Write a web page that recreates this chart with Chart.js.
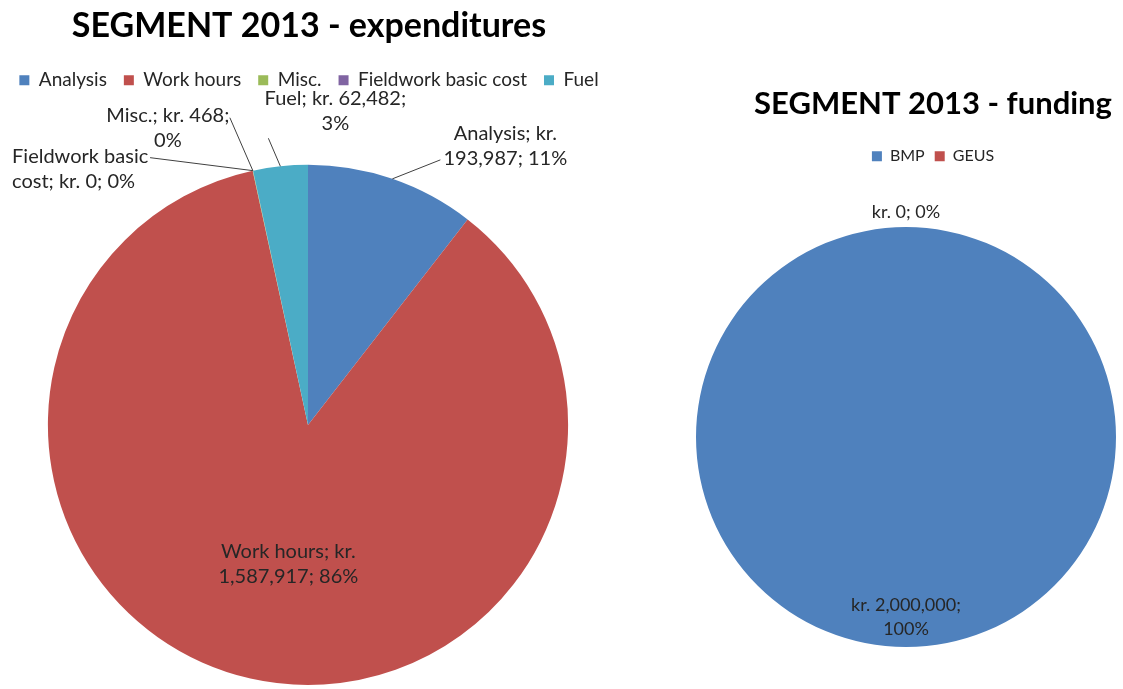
<!DOCTYPE html>
<html>
<head>
<meta charset="utf-8">
<script src="https://cdn.jsdelivr.net/npm/chart.js@4.4.1/dist/chart.umd.min.js"></script>
<style>
  html, body { margin: 0; padding: 0; background: #fff; overflow: hidden; width: 1123px; height: 689px; }
  #exp { position: absolute; left: 0; top: 0; }
  #fund { position: absolute; left: 676px; top: 0; }
</style>
</head>
<body>
<canvas id="exp" width="616" height="689"></canvas>
<canvas id="fund" width="460" height="689"></canvas>
<script>
// expenditures
const expCategories = ["Analysis", "Work hours", "Misc.", "Fieldwork basic cost", "Fuel"];
const expValues = [193987, 1587917, 468, 0, 62482];
const expColors = ["#4F81BD", "#C0504D", "#9BBB59", "#8064A2", "#4BACC6"];

// funding
const fundCategories = ["BMP", "GEUS"];
const fundValues = [2000000, 0];
const fundColors = ["#4F81BD", "#C0504D"];

// where each data label goes, relative to the outer edge of its slice
const expLabelLayout = [
  { dx: 113, dy: -33, breakAfter: 2, lead: [48, -19] },
  { inside: 0.55, dx: 12, dy: 0, breakAfter: 3 },
  { dx: -85, dy: -43, breakAfter: 3, lead: [-23, -53] },
  { dx: -241, dy: -2, breakAfter: 2, align: "left", lead: [-103, -13] },
  { dx: 55, dy: -55, breakAfter: 3, lead: [-12, -28] },
];
const fundLabelLayout = [
  { inside: 0.857, dx: 0, dy: 0, breakAfter: 2 },
  { dx: 0, dy: -15, breakAfter: 9 },
];

const FONT = "Lato";

// Excel style "Name; kr. 1,234; 5%" labels with leader lines
const sliceLabels = {
  id: "sliceLabels",
  afterDatasetsDraw(chart, args, opts) {
    const ctx = chart.ctx;
    const ds = chart.data.datasets[0];
    const total = ds.data.reduce((a, b) => a + b, 0);
    const meta = chart.getDatasetMeta(0);
    ctx.save();
    ctx.font = opts.fontSize + "px " + FONT;
    ctx.fillStyle = "#262626";
    ctx.strokeStyle = "#404040";
    ctx.lineWidth = 1;
    ctx.textBaseline = "middle";
    meta.data.forEach((arc, i) => {
      const lay = opts.layout[i];
      const p = arc.getProps(["x", "y", "startAngle", "endAngle", "outerRadius"], true);
      const mid = (p.startAngle + p.endAngle) / 2;
      const ex = p.x + Math.cos(mid) * p.outerRadius;
      const ey = p.y + Math.sin(mid) * p.outerRadius;
      const v = ds.data[i];
      let txt = "kr. " + v.toLocaleString("en-US") + "; " + Math.round(v / total * 100) + "%";
      if (opts.showName) txt = chart.data.labels[i] + "; " + txt;
      const words = txt.split(" ");
      const lines = [words.slice(0, lay.breakAfter).join(" ")];
      if (words.length > lay.breakAfter) lines.push(words.slice(lay.breakAfter).join(" "));
      let tx, ty;
      if (lay.inside) {
        tx = p.x + Math.cos(mid) * p.outerRadius * lay.inside + lay.dx;
        ty = p.y + Math.sin(mid) * p.outerRadius * lay.inside + lay.dy;
      } else {
        tx = ex + lay.dx;
        ty = ey + lay.dy;
      }
      if (lay.lead) {
        ctx.beginPath();
        ctx.moveTo(ex, ey);
        ctx.lineTo(ex + lay.lead[0], ey + lay.lead[1]);
        ctx.stroke();
      }
      ctx.textAlign = lay.align || "center";
      const lh = opts.lineHeight;
      lines.forEach((ln, k) => {
        ctx.fillText(ln, tx, ty + (k - (lines.length - 1) / 2) * lh);
      });
    });
    ctx.restore();
  },
};

// extra room under the legend, and sideways nudge of title + legend
const legendGap = {
  id: "legendGap",
  beforeInit(chart, args, opts) {
    const fit = chart.legend.fit;
    chart.legend.fit = function () {
      fit.bind(chart.legend)();
      this.height += opts.gap;
    };
  },
  afterLayout(chart, args, opts) {
    if (!opts.shift) return;
    [chart.titleBlock, chart.legend].forEach((b) => {
      b.left += opts.shift;
      b.right += opts.shift;
    });
  },
};

new Chart(document.getElementById("exp"), {
  type: "pie",
  data: {
    labels: expCategories,
    datasets: [{ data: expValues, backgroundColor: expColors, borderWidth: 0 }],
  },
  options: {
    responsive: false,
    animation: false,
    layout: { padding: { top: 0, bottom: 4, left: 0, right: 0 } },
    plugins: {
      title: {
        display: true,
        text: "SEGMENT 2013 - expenditures",
        color: "#000",
        font: { family: FONT, size: 34, weight: "bold" },
        padding: { top: 6, bottom: 7 },
      },
      legend: {
        position: "top",
        labels: {
          boxWidth: 10, boxHeight: 10, padding: 17, color: "#262626",
          font: { family: FONT, size: 19 },
        },
      },
      tooltip: { enabled: false },
      sliceLabels: { layout: expLabelLayout, showName: true, fontSize: 20, lineHeight: 25 },
      legendGap: { gap: 65, shift: 1 },
    },
  },
  plugins: [sliceLabels, legendGap],
});

new Chart(document.getElementById("fund"), {
  type: "pie",
  data: {
    labels: fundCategories,
    datasets: [{ data: fundValues, backgroundColor: fundColors, borderWidth: 0 }],
  },
  options: {
    responsive: false,
    animation: false,
    layout: { padding: { top: 0, bottom: 41, left: 20, right: 20 } },
    plugins: {
      title: {
        display: true,
        text: "SEGMENT 2013 - funding",
        color: "#000",
        font: { family: FONT, size: 31, weight: "bold" },
        padding: { top: 85, bottom: 16 },
      },
      legend: {
        position: "top",
        labels: {
          boxWidth: 10, boxHeight: 10, padding: 10, color: "#262626",
          font: { family: FONT, size: 16 },
        },
      },
      tooltip: { enabled: false },
      sliceLabels: { layout: fundLabelLayout, showName: false, fontSize: 18, lineHeight: 24 },
      legendGap: { gap: 52, shift: 27 },
    },
  },
  plugins: [sliceLabels, legendGap],
});
</script>
</body>
</html>
